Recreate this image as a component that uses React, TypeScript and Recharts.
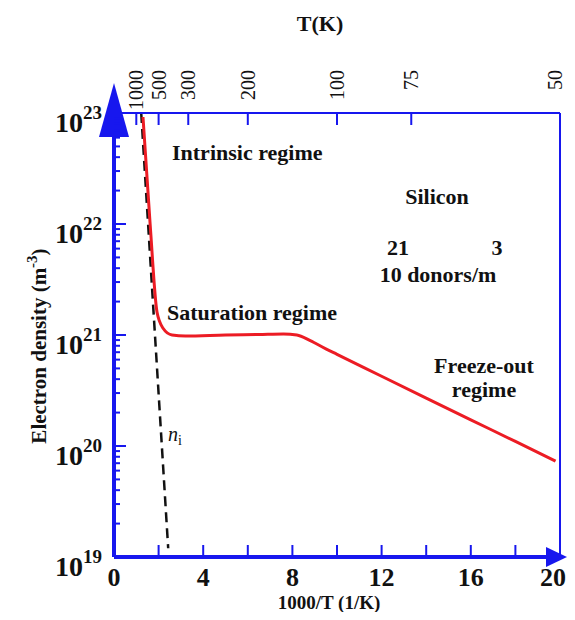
import { LineChart, Line, XAxis, YAxis, ReferenceLine, ReferenceDot } from 'recharts';

// red curve: electron density of Si with 10^21 donors/m^3
const invT = [1.3, 1.62, 1.93, 2.2, 2.6, 3.2, 5, 6.5, 7.6, 8.2, 8.8, 9.5, 10, 12, 14, 16, 18, 19.8];
const density = [9.2e22, 1.0e22, 1.6e21, 1.15e21, 1.0e21, 0.98e21, 1.0e21, 1.01e21, 1.02e21, 1.0e21, 8.9e20, 7.5e20, 6.7e20, 4.25e20, 2.7e20, 1.72e20, 1.1e20, 7.3e19];

// dashed intrinsic carrier line
const niX = [1.22, 2.43];
const niY = [1e23, 1.2e19];

const bottomTicks = [0, 2, 4, 6, 8, 10, 12, 14, 16, 18, 20];
const topTickPos = [1, 2, 3.33, 6, 10, 13.33, 20];
const topTickLabels = ['1000', '500', '300', '200', '100', '75', '50'];
const decades = [19, 20, 21, 22];
const minorSteps = [1, 2, 3, 4, 5, 6, 7, 8, 9];

const curveData = invT.map((x, i) => ({ x, n: density[i] }));
const niData = niX.map((x, i) => ({ x, n: niY[i] }));
const yTicks = [...decades.flatMap((d) => minorSteps.map((k) => k * Math.pow(10, d))), 1e23];

const BLUE = '#1717ee';
const RED = '#ec1c24';
const SERIF = '"Liberation Serif", "Times New Roman", serif';

const LeftTick = (props: any) => {
  const { x, y, payload } = props;
  const v = payload.value;
  const exp = Math.round(Math.log10(v));
  const major = Math.abs(v - Math.pow(10, exp)) / v < 1e-6;
  return (
    <g>
      <line x1={x} y1={y} x2={x + (major ? 12 : 6)} y2={y} stroke={BLUE} strokeWidth={2} />
      {major && (
        <text x={x - 12} y={y + 19} textAnchor="end" fontFamily={SERIF} fontWeight="bold" fill="#111">
          <tspan fontSize={28}>10</tspan>
          <tspan fontSize={19} dy={-13}>{exp}</tspan>
        </text>
      )}
    </g>
  );
};

const BottomTick = (props: any) => {
  const { x, y, payload } = props;
  const v = payload.value;
  const last = v === bottomTicks[bottomTicks.length - 1];
  return (
    <g>
      {v > 0 && !last && <line x1={x} y1={y} x2={x} y2={y - 12} stroke={BLUE} strokeWidth={2} />}
      {v % 4 === 0 && (
        <text
          x={last ? x + 6 : x}
          y={y + 29}
          textAnchor={last ? 'end' : 'middle'}
          fontFamily={SERIF}
          fontWeight="bold"
          fontSize={26}
          fill="#111"
        >
          {v}
        </text>
      )}
    </g>
  );
};

const TopTick = (props: any) => {
  const { x, y, payload } = props;
  const idx = topTickPos.indexOf(payload.value);
  const shift = idx === topTickPos.length - 1 ? -5 : 0;
  return (
    <g>
      <line x1={x} y1={y} x2={x} y2={y + 12} stroke={BLUE} strokeWidth={2} />
      <text
        transform={`translate(${x + 7 + shift}, ${y - 43}) rotate(-90)`}
        textAnchor="end"
        fontFamily={SERIF}
        fontSize={20}
        fill="#111"
      >
        {topTickLabels[idx]}
      </text>
    </g>
  );
};

const UpArrow = (p: any) => (
  <polygon points={`${p.cx},${p.cy - 30} ${p.cx - 15},${p.cy + 24} ${p.cx + 15},${p.cy + 24}`} fill={BLUE} />
);

const RightArrow = (p: any) => (
  <polygon points={`${p.cx + 7},${p.cy} ${p.cx - 14},${p.cy - 10} ${p.cx - 14},${p.cy + 10}`} fill={BLUE} />
);

const label = { fontFamily: SERIF, fontWeight: 'bold' as const, fontSize: 22, fill: '#111' };

export default function App() {
  return (
    <LineChart width={559} height={604} margin={{ top: 65, right: 7, bottom: 25, left: 46 }}>
      <XAxis
        xAxisId="bottom"
        dataKey="x"
        type="number"
        domain={[0, 20]}
        ticks={bottomTicks}
        interval={0}
        height={30}
        tickSize={0}
        tickMargin={0}
        tick={<BottomTick />}
        axisLine={{ stroke: BLUE, strokeWidth: 4 }}
        allowDataOverflow
      />
      <XAxis
        xAxisId="top"
        dataKey="x"
        orientation="top"
        type="number"
        domain={[0, 20]}
        ticks={topTickPos}
        interval={0}
        height={40}
        tickSize={0}
        tickMargin={0}
        tick={<TopTick />}
        axisLine={{ stroke: BLUE, strokeWidth: 2 }}
        allowDataOverflow
      />
      <YAxis
        dataKey="n"
        type="number"
        scale="log"
        domain={[1e19, 1e23]}
        ticks={yTicks}
        interval={0}
        width={60}
        tickSize={0}
        tickMargin={0}
        tick={<LeftTick />}
        axisLine={{ stroke: BLUE, strokeWidth: 4 }}
        allowDataOverflow
      />
      <ReferenceLine xAxisId="bottom" x={20} stroke={BLUE} strokeWidth={2} />
      {/* carries the top temperature axis */}
      <Line
        xAxisId="top"
        data={curveData}
        dataKey="n"
        stroke="none"
        dot={false}
        activeDot={false}
        isAnimationActive={false}
      />
      <Line
        xAxisId="bottom"
        data={niData}
        dataKey="n"
        type="linear"
        stroke="#111"
        strokeWidth={2.5}
        strokeDasharray="10 6"
        dot={false}
        isAnimationActive={false}
      />
      <Line
        xAxisId="bottom"
        data={curveData}
        dataKey="n"
        type="monotone"
        stroke={RED}
        strokeWidth={3}
        dot={false}
        isAnimationActive={false}
      />
      <ReferenceDot xAxisId="bottom" x={0} y={1e23} ifOverflow="visible" shape={UpArrow} />
      <ReferenceDot xAxisId="bottom" x={20} y={1e19} ifOverflow="visible" shape={RightArrow} />

      <text x={312} y={23} textAnchor="middle" {...label}>T(K)</text>
      <text x={321} y={601} textAnchor="middle" {...label} fontSize={19}>1000/T (1/K)</text>
      <text transform="translate(38, 338) rotate(-90)" textAnchor="middle" {...label} fontSize={21}>
        Electron density (m<tspan dy={-9} fontSize={15}>-3</tspan><tspan dy={9}>)</tspan>
      </text>

      <text x={164} y={152} {...label}>Intrinsic regime</text>
      <text x={429} y={196} textAnchor="middle" {...label}>Silicon</text>
      <text x={390} y={247} textAnchor="middle" {...label}>21</text>
      <text x={489} y={247} textAnchor="middle" {...label}>3</text>
      <text x={430} y={274} textAnchor="middle" {...label}>10 donors/m</text>
      <text x={159} y={312} {...label}>Saturation regime</text>
      <text x={476} y={365} textAnchor="middle" {...label}>Freeze-out</text>
      <text x={476} y={389} textAnchor="middle" {...label}>regime</text>
      <text x={160} y={433} fontFamily={SERIF} fontStyle="italic" fontSize={20} fill="#111">
        n<tspan fontStyle="normal" fontSize={14} dy={4}>i</tspan>
      </text>
    </LineChart>
  );
}
